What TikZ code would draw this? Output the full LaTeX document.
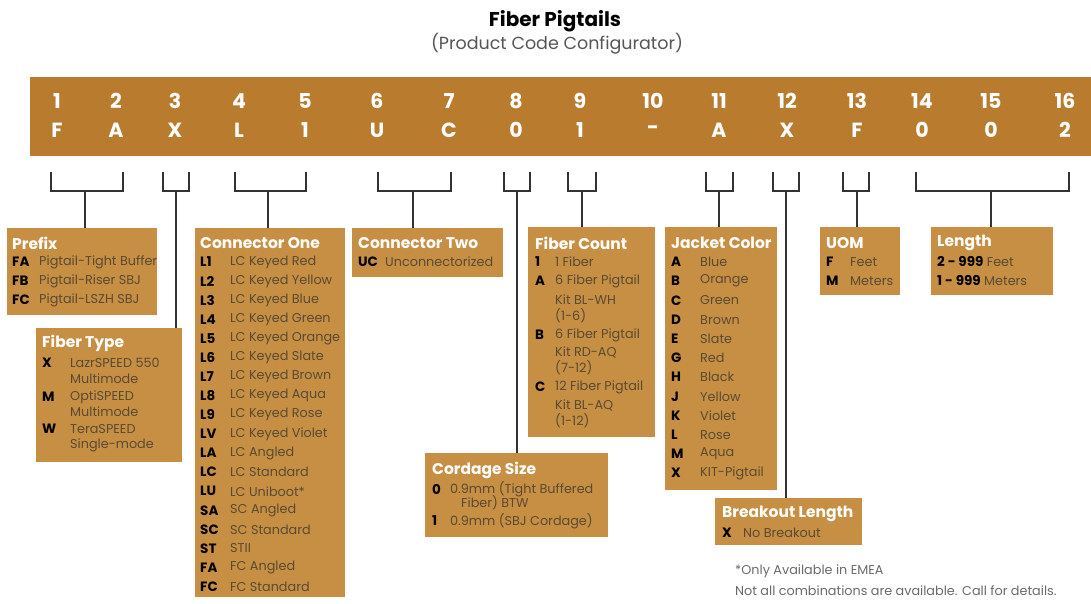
\documentclass[tikz,border=0pt]{standalone}
\usepackage{fontspec}
\setmainfont{Poppins}
\definecolor{barc}{HTML}{B97C2F}
\definecolor{boxc}{HTML}{C78F43}
\definecolor{descc}{HTML}{5A4A33}
\definecolor{linec}{HTML}{333333}
\definecolor{notec}{HTML}{6A6A6A}
\tikzset{
 bar/.style={fill=barc, draw=none, inner sep=0, outer sep=0},
 box/.style={fill=boxc, draw=none, inner sep=0, outer sep=0, anchor=north west},
 ttl/.style={anchor=west, text=white, font=\fontsize{15.5}{17}\selectfont\bfseries, inner sep=0},
 cd/.style={anchor=west, text=black, font=\fontsize{13.5}{15}\selectfont\bfseries, inner sep=0},
 ds/.style={anchor=west, text=descc, font=\fontsize{12.8}{14}\selectfont, inner sep=0},
 num/.style={text=white, font=\fontsize{20.5}{22}\selectfont\bfseries, inner sep=0},
 brk/.style={draw=linec, line width=2.4pt},
 note/.style={anchor=west, text=notec, font=\fontsize{12.8}{14}\selectfont, inner sep=0},
 head/.style={text=black, font=\fontsize{20}{22}\selectfont\bfseries, inner sep=0},
 sub/.style={text=notec!80!black, font=\fontsize{17.5}{19}\selectfont, inner sep=0}
}
\begin{document}
\begin{tikzpicture}[x=1pt,y=-1pt]
\useasboundingbox (0,0) rectangle (1091,603);
% title
\node[head] (title) at (555,21) {Fiber Pigtails};
\node[sub] (subtitle) at (557,44) {(Product Code Configurator)};
% bar
\node[bar, anchor=north west, minimum width=1061pt, minimum height=79pt] (bar) at (30,77) {};
\foreach \x/\n/\c [count=\i] in {57/1/F,116/2/A,175/3/X,239/4/L,305/5/1,377/6/U,449/7/C,516/8/0,580/9/1,653/10/-,719/11/A,787/12/X,857/13/F,922/14/0,991/15/0,1065/16/2}{
  \node[num] (n\i) at (\x,101) {\n};
  \node[num] (l\i) at (\x,130) {\c};
}
% boxes
\node[box, minimum width=150pt, minimum height=87pt] (prefix) at (7,228) {};
\node[box, minimum width=146pt, minimum height=134pt] (ftype) at (36,328) {};
\node[box, minimum width=150pt, minimum height=369pt] (conone) at (195,228) {};
\node[box, minimum width=151pt, minimum height=49pt] (contwo) at (352,228) {};
\node[box, minimum width=127pt, minimum height=210pt] (fcount) at (528,227) {};
\node[box, minimum width=183pt, minimum height=84pt] (cordage) at (425,453) {};
\node[box, minimum width=112pt, minimum height=263pt] (jacket) at (665,227) {};
\node[box, minimum width=147pt, minimum height=47pt] (breakout) at (715,498) {};
\node[box, minimum width=80pt, minimum height=68pt] (uom) at (820,227) {};
\node[box, minimum width=122pt, minimum height=68pt] (length) at (931,227) {};
% brackets
\foreach \a/\b/\s/\t [count=\i] in {51/123/85/prefix,163/189/176/ftype,235/306/268/conone,378/451/413/contwo,504/530/517/cordage,568/596/582/fcount,706/733/719/jacket,773/799/786/breakout,843/869/857/uom,916/1069/991/length}{
  \coordinate (ba\i) at (\a,172);
  \coordinate (bb\i) at (\b,172);
  \coordinate (bs\i) at (\s,191);
  \draw[brk] (ba\i) -- (ba\i |- bs\i) -| (bb\i);
  \draw[brk] (bs\i) -- (bs\i |- \t.north);
}
% Prefix
\node[ttl] (tprefix) at (12,243) {Prefix};
\foreach \c/\d/\y [count=\i] in {FA/Pigtail-Tight Buffer/262,FB/Pigtail-Riser SBJ/281,FC/Pigtail-LSZH SBJ/300}{
  \node[cd] (pc\i) at (12,\y) {\c};
  \node[ds] (pd\i) at (39,\y) {\d};
}
% Fiber Type
\node[ttl] (tftype) at (42,343) {Fiber Type};
\foreach \c/\y [count=\i] in {X/363,M/397,W/429}{
  \node[cd] (fc\i) at (42,\y) {\c};
}
\foreach \d/\y [count=\i] in {LazrSPEED 550/363,Multimode/379,OptiSPEED/397,Multimode/412,TeraSPEED/429,Single-mode/445}{
  \node[ds] (fd\i) at (70,\y) {\d};
}
% Connector One
\node[ttl] (tconone) at (200,243) {Connector One};
\foreach \c/\d [count=\i] in {L1/LC Keyed Red,L2/LC Keyed Yellow,L3/LC Keyed Blue,L4/LC Keyed Green,L5/LC Keyed Orange,L6/LC Keyed Slate,L7/LC Keyed Brown,L8/LC Keyed Aqua,L9/LC Keyed Rose,LV/LC Keyed Violet,LA/LC Angled,LC/LC Standard,LU/LC Uniboot*,SA/SC Angled,SC/SC Standard,ST/STII,FA/FC Angled,FC/FC Standard}{
  \node[cd] (oc\i) at (200,{262+(\i-1)*19.1}) {\c};
  \node[ds] (od\i) at (230,{262+(\i-1)*19.1}) {\d};
}
% Connector Two
\node[ttl] (tcontwo) at (358,243) {Connector Two};
\node[cd] (tc1) at (358,262) {UC};
\node[ds] (td1) at (385,262) {Unconnectorized};
% Fiber Count
\node[ttl] (tfcount) at (535,243) {Fiber Count};
\foreach \c/\y [count=\i] in {1/262,A/281,B/335,C/387}{
  \node[cd] (kc\i) at (535,\y) {\c};
}
\foreach \d/\y [count=\i] in {1 Fiber/262,6 Fiber Pigtail/281,Kit BL-WH/300,(1-6)/316,6 Fiber Pigtail/335,Kit RD-AQ/352,(7-12)/368,12 Fiber Pigtail/387,Kit BL-AQ/405,(1-12)/421}{
  \node[ds] (kd\i) at (555,\y) {\d};
}
% Cordage Size
\node[ttl] (tcordage) at (432,470) {Cordage Size};
\node[cd] (gc1) at (432,489) {0};
\node[ds] (gd1) at (450,489) {0.9mm (Tight Buffered};
\node[ds] (gd2) at (461,503) {Fiber) BTW};
\node[cd] (gc2) at (432,521) {1};
\node[ds] (gd3) at (450,521) {0.9mm (SBJ Cordage)};
% Jacket Color
\node[ttl] (tjacket) at (671,243) {Jacket Color};
\foreach \c/\d [count=\i] in {A/Blue,B/Orange,C/Green,D/Brown,E/Slate,G/Red,H/Black,J/Yellow,K/Violet,L/Rose,M/Aqua,X/KIT-Pigtail}{
  \node[cd] (jc\i) at (671,{262+(\i-1)*19.2}) {\c};
  \node[ds] (jd\i) at (700,{262+(\i-1)*19.2}) {\d};
}
% Breakout Length
\node[ttl] (tbreakout) at (722,514) {Breakout Length};
\node[cd] (bc1) at (722,533) {X};
\node[ds] (bd1) at (743,533) {No Breakout};
% UOM
\node[ttl] (tuom) at (826,243) {UOM};
\node[cd] (uc1) at (826,262) {F};
\node[ds] (ud1) at (850,262) {Feet};
\node[cd] (uc2) at (826,281) {M};
\node[ds] (ud2) at (850,281) {Meters};
% Length
\node[ttl] (tlength) at (937,243) {Length};
\node[ds] (ld1) at (937,262) {\textcolor{black}{\fontsize{13.5}{15}\selectfont\bfseries 2 - 999} Feet};
\node[ds] (ld2) at (937,281) {\textcolor{black}{\fontsize{13.5}{15}\selectfont\bfseries 1 - 999} Meters};
% notes
\node[note] (note1) at (735,571) {*Only Available in EMEA};
\node[note] (note2) at (735,591) {Not all combinations are available. Call for details.};
\end{tikzpicture}
\end{document}
